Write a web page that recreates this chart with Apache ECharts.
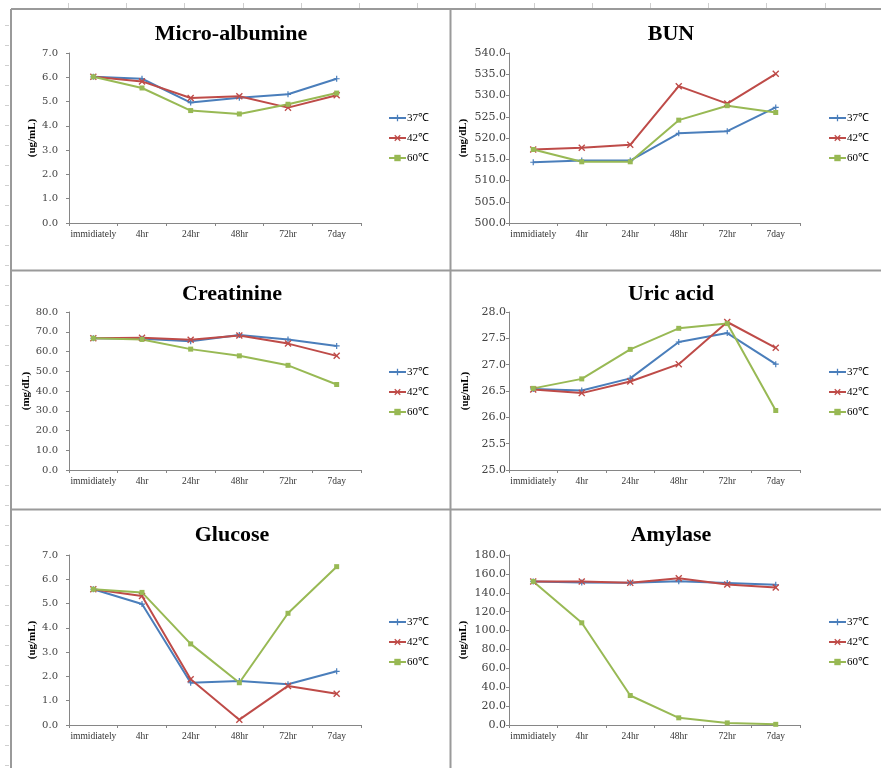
<!DOCTYPE html>
<html>
<head>
<meta charset="utf-8">
<script src="https://cdn.jsdelivr.net/npm/echarts@6/dist/echarts.min.js"></script>
<style>
html,body{margin:0;padding:0;background:#fff;}
#chart{width:881px;height:768px;}
</style>
</head>
<body>
<div id="chart"></div>
<script>
const categories = ['immidiately', '4hr', '24hr', '48hr', '72hr', '7day'];
const seriesNames = ['37℃', '42℃', '60℃'];

const microAlb37 = [6.02, 5.94, 4.96, 5.16, 5.30, 5.94];
const microAlb42 = [6.02, 5.83, 5.15, 5.22, 4.75, 5.26];
const microAlb60 = [6.02, 5.56, 4.63, 4.49, 4.89, 5.35];

const bun37 = [514.3, 514.7, 514.7, 521.1, 521.6, 527.2];
const bun42 = [517.3, 517.7, 518.4, 532.2, 528.1, 535.1];
const bun60 = [517.3, 514.4, 514.4, 524.2, 527.6, 526.0];

const creat37 = [66.7, 66.5, 65.2, 68.4, 66.1, 62.8];
const creat42 = [66.7, 66.9, 66.0, 68.1, 64.0, 57.8];
const creat60 = [66.7, 66.1, 61.2, 57.8, 53.0, 43.3];

const uric37 = [26.54, 26.51, 26.74, 27.43, 27.60, 27.01];
const uric42 = [26.53, 26.46, 26.68, 27.01, 27.81, 27.32];
const uric60 = [26.55, 26.73, 27.29, 27.69, 27.78, 26.13];

const gluc37 = [5.59, 4.98, 1.74, 1.81, 1.68, 2.21];
const gluc42 = [5.59, 5.31, 1.88, 0.22, 1.61, 1.29];
const gluc60 = [5.59, 5.46, 3.34, 1.74, 4.60, 6.52];

const amyl37 = [152.0, 150.8, 150.5, 152.2, 150.3, 148.4];
const amyl42 = [152.0, 152.0, 150.5, 155.3, 148.7, 145.5];
const amyl60 = [152.0, 108.2, 31.2, 7.6, 2.2, 0.7];

const panels = [
  {title: 'Micro-albumine', unit: '(ug/mL)', data: [microAlb37, microAlb42, microAlb60], min: 0, max: 7, interval: 1,
   left: 69, top: 53, width: 292, height: 170, tx: 231, ty: 34, lx: 388, ly: 112, gap: 31, yfs: 10, ym: 11},
  {title: 'BUN', unit: '(mg/dL)', data: [bun37, bun42, bun60], min: 500, max: 540, interval: 5,
   left: 509, top: 53, width: 291, height: 170, tx: 671, ty: 34, lx: 828, ly: 112, gap: 40, yfs: 11, ym: 3},
  {title: 'Creatinine', unit: '(mg/dL)', data: [creat37, creat42, creat60], min: 0, max: 80, interval: 10,
   left: 69, top: 312, width: 292, height: 158, tx: 232, ty: 294, lx: 388, ly: 366, gap: 35, yfs: 10, ym: 11},
  {title: 'Uric acid', unit: '(ug/mL)', data: [uric37, uric42, uric60], min: 25, max: 28, interval: 0.5,
   left: 509, top: 312, width: 291, height: 158, tx: 671, ty: 294, lx: 828, ly: 366, gap: 38, yfs: 11, ym: 3},
  {title: 'Glucose', unit: '(ug/mL)', data: [gluc37, gluc42, gluc60], min: 0, max: 7, interval: 1,
   left: 69, top: 555, width: 292, height: 170, tx: 232, ty: 535, lx: 388, ly: 616, gap: 31, yfs: 10, ym: 11},
  {title: 'Amylase', unit: '(ug/mL)', data: [amyl37, amyl42, amyl60], min: 0, max: 180, interval: 20,
   left: 509, top: 555, width: 291, height: 170, tx: 671, ty: 535, lx: 828, ly: 616, gap: 40, yfs: 11, ym: 3}
];

const colors = ['#4a7ebb', '#be4b48', '#98b954'];
const xPath = 'path://M0,1.4L1.4,0L5,3.6L8.6,0L10,1.4L6.4,5L10,8.6L8.6,10L5,6.4L1.4,10L0,8.6L3.6,5Z';
const plusPath = 'path://M4,0L6,0L6,4L10,4L10,6L6,6L6,10L4,10L4,6L0,6L0,4L4,4Z';
const symbols = [plusPath, xPath, 'rect'];
const symbolSizes = [6, 7, 5];
const serif = '"Liberation Serif", "Times New Roman", serif';
const wideSerif = '"DejaVu Serif", "Liberation Serif", serif';

const option = {
  animation: false,
  backgroundColor: '#ffffff',
  title: [], grid: [], xAxis: [], yAxis: [], legend: [], series: [],
  graphic: []
};

panels.forEach((p, i) => {
  option.title.push({
    text: p.title, left: p.tx, top: p.ty, padding: 0, textAlign: 'center', textVerticalAlign: 'middle',
    textStyle: {fontFamily: serif, fontWeight: 'bold', fontSize: 22, color: '#000'}
  });
  option.grid.push({left: p.left, top: p.top, width: p.width, height: p.height, containLabel: false});
  option.xAxis.push({
    type: 'category', gridIndex: i, data: categories, boundaryGap: true,
    axisLine: {lineStyle: {color: '#868686', width: 1}},
    axisTick: {show: true, length: 3, interval: 0, lineStyle: {color: '#868686'}},
    axisLabel: {fontFamily: serif, fontSize: 9.5, color: '#333', margin: 6, interval: 0},
    splitLine: {show: false}
  });
  option.yAxis.push({
    type: 'value', gridIndex: i, min: p.min, max: p.max, interval: p.interval,
    name: p.unit, nameLocation: 'middle', nameGap: p.gap, nameRotate: 90,
    nameTextStyle: {fontFamily: serif, fontWeight: 'bold', fontSize: 11, color: '#000'},
    axisLine: {show: true, lineStyle: {color: '#868686', width: 1}},
    axisTick: {show: true, length: 3, lineStyle: {color: '#868686'}},
    axisLabel: {fontFamily: wideSerif, fontSize: p.yfs, color: '#444', margin: p.ym,
      formatter: v => v.toFixed(1)},
    splitLine: {show: false}
  });
  option.legend.push({
    orient: 'vertical', left: p.lx, top: p.ly, padding: 0,
    itemWidth: 17, itemHeight: 8, itemGap: 8,
    data: seriesNames,
    textStyle: {fontFamily: serif, fontSize: 11, lineHeight: 12, color: '#000', padding: [0, 0, 0, -4]},
    selectedMode: false
  });
  p.data.forEach((arr, k) => {
    option.series.push({
      type: 'line', name: seriesNames[k], xAxisIndex: i, yAxisIndex: i, data: arr,
      symbol: symbols[k], symbolSize: symbolSizes[k], showSymbol: true,
      color: colors[k],
      lineStyle: {color: colors[k], width: 2},
      itemStyle: {color: colors[k]}
    });
  });
});

// faint spreadsheet gridline stubs along top and left edges
const stubStyle = {stroke: '#cfcfcf', lineWidth: 1};
for (let x = 68; x < 881; x += 58.2) {
  option.graphic.push({type: 'line', shape: {x1: Math.round(x) + 0.5, y1: 3, x2: Math.round(x) + 0.5, y2: 8}, style: stubStyle, silent: true});
}
for (let y = 25; y < 768; y += 20) {
  option.graphic.push({type: 'line', shape: {x1: 5, y1: y + 0.5, x2: 9, y2: y + 0.5}, style: stubStyle, silent: true});
}

// panel frames (spreadsheet chart borders)
const frameStyle = {stroke: '#9a9a9a', lineWidth: 2};
option.graphic.push(
  {type: 'line', shape: {x1: 11, y1: 9, x2: 881, y2: 9}, style: frameStyle, silent: true},
  {type: 'line', shape: {x1: 11, y1: 9, x2: 11, y2: 768}, style: frameStyle, silent: true},
  {type: 'line', shape: {x1: 450.5, y1: 9, x2: 450.5, y2: 768}, style: frameStyle, silent: true},
  {type: 'line', shape: {x1: 11, y1: 270.5, x2: 881, y2: 270.5}, style: frameStyle, silent: true},
  {type: 'line', shape: {x1: 11, y1: 509.5, x2: 881, y2: 509.5}, style: frameStyle, silent: true}
);

const chart = echarts.init(document.getElementById('chart'), null, {renderer: 'canvas'});
chart.setOption(option);
</script>
</body>
</html>
